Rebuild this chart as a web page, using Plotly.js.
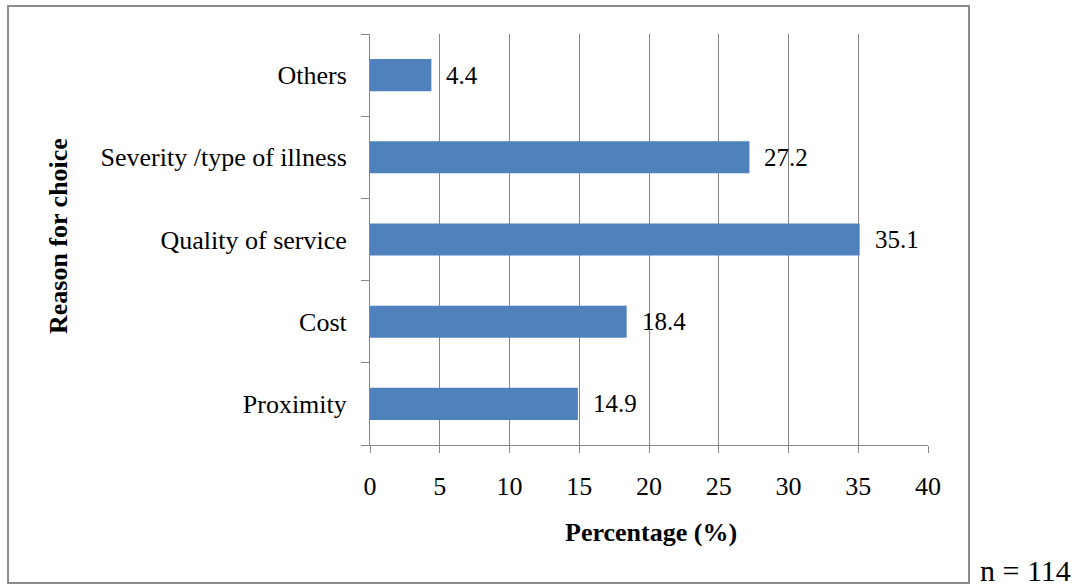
<!DOCTYPE html>
<html>
<head>
<meta charset="utf-8">
<script src="https://cdn.plot.ly/plotly-3.0.1.min.js"></script>
<style>
  html, body { margin: 0; padding: 0; background: #fff; }
  #chart { width: 1083px; height: 586px; }
</style>
</head>
<body>
<div id="chart"></div>
<script>
// Reasons given for choice of facility (n = 114)
const reasons = ["Proximity", "Cost", "Quality of service", "Severity /type of illness", "Others"];
const percentages = [14.9, 18.4, 35.1, 27.2, 4.4];
const xTicks = [0, 5, 10, 15, 20, 25, 30, 35, 40];
const xTitle = "Percentage (%)";
const yTitle = "Reason for choice";
const sampleNote = "n = 114";

const serif = "'Liberation Serif', 'Times New Roman', serif";
const gridGray = "#878787";

const trace = {
  type: "bar",
  orientation: "h",
  y: reasons,
  x: percentages,
  marker: { color: "#4F81BD", line: { width: 0 } },
  hoverinfo: "x+y"
};

// value labels placed just past each bar end
const valueLabels = percentages.map((v, i) => ({
  x: v, y: reasons[i], xref: "x", yref: "y",
  text: v.toFixed(1), showarrow: false,
  xanchor: "left", xshift: 13,
  font: { family: serif, size: 25, color: "#000" }
}));

const layout = {
  width: 1083, height: 586,
  margin: { l: 370, r: 155, t: 34, b: 141 },
  paper_bgcolor: "#fff", plot_bgcolor: "#fff",
  bargap: 0.61,
  showlegend: false,
  font: { family: serif, color: "#000", size: 25 },
  xaxis: {
    range: [0, 40],
    tickvals: xTicks,
    ticktext: xTicks.map(String),
    showgrid: true, gridcolor: gridGray, gridwidth: 1,
    zeroline: false,
    showline: true, linecolor: gridGray, linewidth: 1,
    ticks: "outside", ticklen: 7, tickcolor: gridGray,
    ticklabelstandoff: 11,
    tickfont: { family: serif, size: 26, color: "#000" },
    fixedrange: true
  },
  yaxis: {
    type: "category",
    categoryorder: "array", categoryarray: reasons,
    tickson: "boundaries",
    ticks: "outside", ticklen: 8, tickcolor: gridGray,
    showgrid: false, zeroline: false,
    showline: true, linecolor: gridGray, linewidth: 1,
    ticklabelstandoff: 17,
    tickfont: { family: serif, size: 26, color: "#000" },
    fixedrange: true
  },
  shapes: [
    // frame around the chart area
    { type: "rect", xref: "paper", yref: "paper",
      x0: -0.6487, x1: 1.0735, y0: -0.3358, y1: 1.0681,
      line: { color: "#8c8c8c", width: 2 }, fillcolor: "rgba(0,0,0,0)", layer: "below" }
  ],
  annotations: valueLabels.concat([
    // axis titles
    { xref: "paper", yref: "paper", x: 0.5036, y: -0.2117,
      xanchor: "center", yanchor: "middle", showarrow: false,
      text: "<b>" + xTitle + "</b>", font: { family: serif, size: 26, color: "#000" } },
    { xref: "paper", yref: "paper", x: -0.5591, y: 0.5085, textangle: -90,
      xanchor: "center", yanchor: "middle", showarrow: false,
      text: "<b>" + yTitle + "</b>", font: { family: serif, size: 26, color: "#000" } },
    // sample size note
    { xref: "paper", yref: "paper", x: 1.1756, y: -0.305,
      xanchor: "center", yanchor: "middle", showarrow: false,
      text: sampleNote, font: { family: serif, size: 30, color: "#000" } }
  ])
};

Plotly.newPlot("chart", [trace], layout, { displayModeBar: false, staticPlot: true });
</script>
</body>
</html>
